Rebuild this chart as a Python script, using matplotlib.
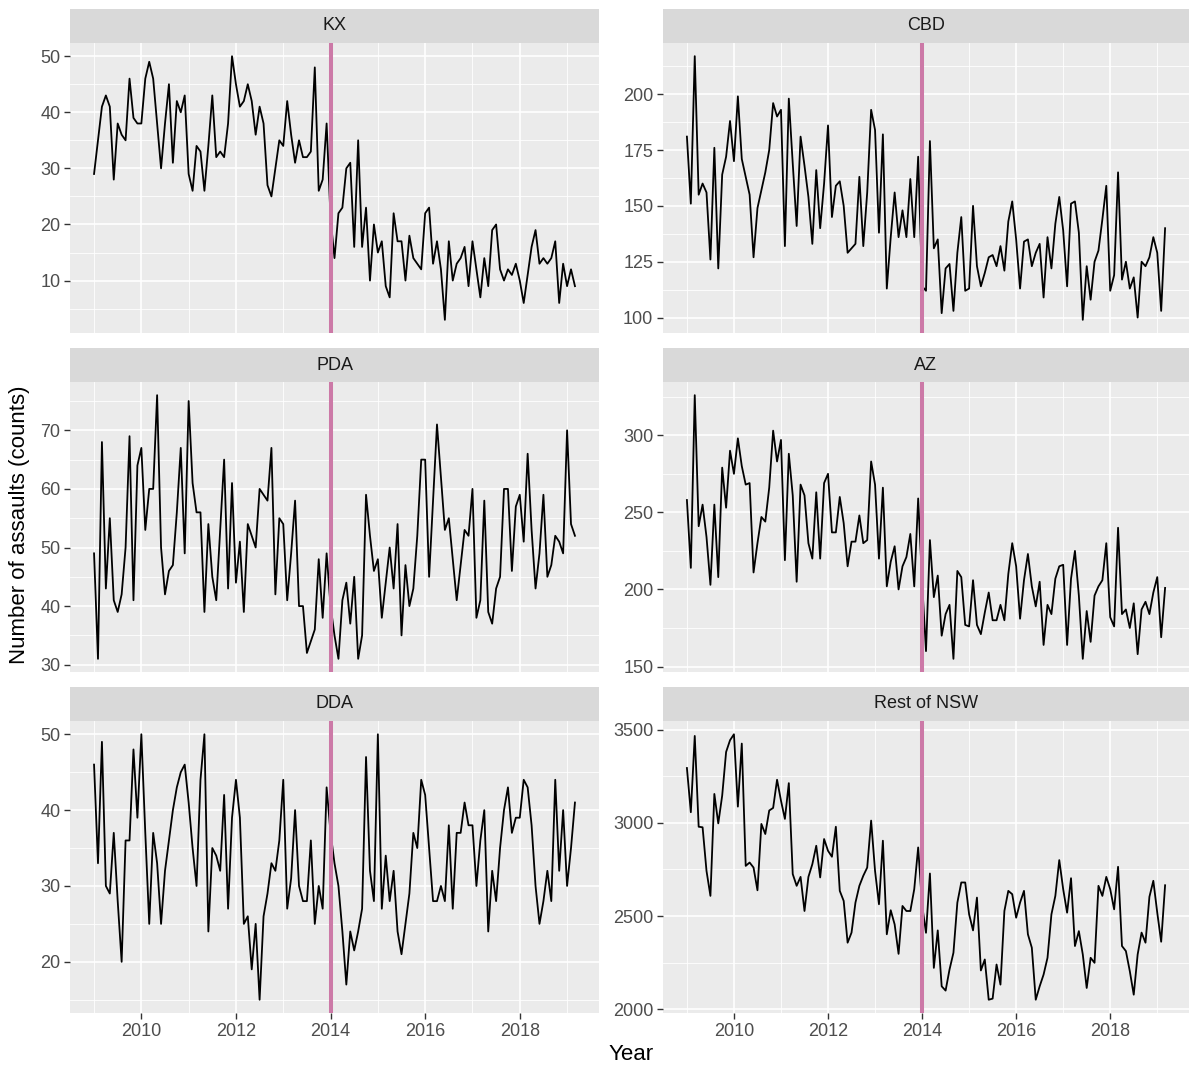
import numpy as np
import matplotlib.pyplot as plt
from matplotlib.ticker import MultipleLocator

plt.rcParams['font.family'] = ['Liberation Sans', 'DejaVu Sans']

# monthly counts, Jan 2009 - Mar 2019
kx = [29, 35, 41, 43, 41, 28, 38, 36, 35, 46, 39, 38,
      38, 46, 49, 46, 38, 30, 38, 45, 31, 42, 40, 43,
      29, 26, 34, 33, 26, 34, 43, 32, 33, 32, 38, 50,
      45, 41, 42, 45, 42, 36, 41, 38, 27, 25, 30, 35,
      34, 42, 36, 31, 35, 32, 32, 33, 48, 26, 28, 38,
      21, 14, 22, 23, 30, 31, 16, 35, 16, 23, 10, 20,
      15, 17, 9, 7, 22, 17, 17, 10, 18, 14, 13, 12,
      22, 23, 13, 17, 12, 3, 17, 10, 13, 14, 16, 9,
      17, 12, 7, 14, 9, 19, 20, 12, 10, 12, 11, 13,
      10, 6, 11, 16, 19, 13, 14, 13, 14, 17, 6, 13,
      9, 12, 9]

cbd = [181, 151, 217, 155, 160, 156, 126, 176, 122, 164, 172, 188,
       170, 199, 171, 163, 155, 127, 149, 157, 165, 175, 196, 190,
       193, 132, 198, 169, 141, 181, 168, 154, 133, 166, 140, 160,
       186, 145, 159, 161, 150, 129, 131, 133, 163, 132, 156, 193,
       184, 138, 182, 113, 136, 156, 136, 148, 136, 162, 136, 172,
       114, 112, 179, 131, 135, 102, 122, 124, 103, 129, 145, 112,
       113, 150, 123, 114, 120, 127, 128, 123, 132, 121, 143, 152,
       135, 113, 134, 135, 123, 129, 133, 109, 136, 122, 142, 154,
       139, 114, 151, 152, 138, 99, 123, 108, 125, 130, 144, 159,
       112, 119, 165, 117, 125, 113, 118, 100, 125, 123, 127, 136,
       129, 103, 140]

pda = [49, 31, 68, 43, 55, 41, 39, 42, 50, 69, 41, 64,
       67, 53, 60, 60, 76, 50, 42, 46, 47, 56, 67, 49,
       75, 61, 56, 56, 39, 54, 45, 41, 53, 65, 43, 61,
       44, 51, 39, 54, 52, 50, 60, 59, 58, 67, 42, 55,
       54, 41, 49, 58, 40, 40, 32, 34, 36, 48, 38, 49,
       40, 35, 31, 41, 44, 37, 45, 31, 35, 59, 52, 46,
       48, 38, 44, 50, 43, 54, 35, 47, 40, 43, 52, 65,
       65, 45, 58, 71, 62, 53, 55, 48, 41, 47, 53, 52,
       60, 38, 41, 58, 39, 37, 43, 45, 60, 60, 46, 57,
       59, 51, 66, 53, 43, 49, 59, 45, 47, 52, 51, 49,
       70, 54, 52]

az = [258, 214, 326, 241, 255, 234, 203, 255, 208, 279, 253, 290,
      275, 298, 280, 268, 269, 211, 230, 247, 244, 266, 303, 283,
      297, 219, 288, 261, 205, 268, 261, 230, 220, 263, 220, 269,
      275, 237, 237, 260, 243, 215, 231, 231, 248, 230, 232, 283,
      268, 220, 266, 202, 218, 228, 200, 215, 221, 236, 202, 259,
      205, 160, 232, 195, 209, 170, 184, 190, 155, 212, 208, 177,
      176, 206, 177, 171, 185, 198, 180, 180, 190, 180, 210, 230,
      215, 181, 206, 223, 202, 189, 205, 164, 190, 184, 207, 215,
      216, 164, 207, 225, 196, 155, 186, 166, 196, 202, 206, 230,
      182, 176, 240, 184, 187, 175, 191, 158, 187, 192, 184, 198,
      208, 169, 201]

dda = [46, 33, 49, 30, 29, 37, 28, 20, 36, 36, 48, 39,
       50, 37, 25, 37, 33, 25, 32, 36, 40, 43, 45, 46,
       41, 35, 30, 44, 50, 24, 35, 34, 32, 42, 27, 39,
       44, 39, 25, 26, 19, 25, 15, 26, 29, 33, 32, 36,
       44, 27, 31, 40, 30, 28, 28, 36, 25, 30, 27, 43,
       37, 33, 30, 24, 17, 24, 21.5, 24, 27, 47, 32, 28,
       50, 27, 34, 28, 32, 24, 21, 25, 29, 37, 35, 44,
       42, 35, 28, 28, 30, 28, 38, 27, 37, 37, 41, 38,
       38, 30, 36, 40, 24, 32, 28, 35, 40, 43, 37, 39,
       39, 44, 43, 38, 30, 25, 28, 32, 28, 44, 32, 40,
       30, 35, 41]

rest_nsw = [3294, 3057, 3466, 2979, 2976, 2742, 2608, 3155, 2997, 3146, 3380, 3443,
            3475, 3087, 3425, 2769, 2787, 2760, 2638, 2994, 2940, 3066, 3080, 3231,
            3119, 3021, 3213, 2725, 2662, 2710, 2527, 2710, 2778, 2877, 2707, 2913,
            2850, 2818, 2979, 2635, 2581, 2357, 2411, 2572, 2662, 2716, 2760, 3012,
            2742, 2563, 2904, 2402, 2531, 2455, 2297, 2554, 2527, 2527, 2644, 2868,
            2560, 2410, 2728, 2222, 2423, 2123, 2100, 2213, 2303, 2572, 2680, 2680,
            2509, 2423, 2599, 2208, 2267, 2051, 2057, 2240, 2132, 2527, 2635, 2617,
            2491, 2572, 2635, 2402, 2330, 2051, 2123, 2186, 2276, 2509, 2608, 2800,
            2644, 2518, 2703, 2339, 2419, 2294, 2114, 2276, 2249, 2662, 2608, 2710,
            2644, 2536, 2764, 2339, 2312, 2204, 2078, 2294, 2411, 2357, 2603, 2689,
            2518, 2362, 2665]

titles = ['KX', 'CBD', 'PDA', 'AZ', 'DDA', 'Rest of NSW']
series = [kx, cbd, pda, az, dda, rest_nsw]
y_steps = [10, 25, 10, 50, 10, 500]
intervention = 2014

years = 2009 + np.arange(len(kx)) / 12

W, H = 1190, 1069
fig = plt.figure(figsize=(W / 100, H / 100), dpi=100)

cols = [(70, 599), (663, 1189)]
rows = [(9, 43, 333), (348, 382, 672), (687, 721, 1013)]

xmin, xmax = years.min(), years.max()
xpad = (xmax - xmin) * 0.05

for k, (name, vals, step) in enumerate(zip(titles, series, y_steps)):
    r, c = divmod(k, 2)
    x0, x1 = cols[c]
    ys, yt, yb = rows[r]
    ax = fig.add_axes([x0 / W, 1 - yb / H, (x1 - x0) / W, (yb - yt) / H])
    st = fig.add_axes([x0 / W, 1 - yt / H, (x1 - x0) / W, (yt - ys) / H])

    st.set_facecolor('#D9D9D9')
    st.set_xticks([])
    st.set_yticks([])
    for s in st.spines.values():
        s.set_visible(False)
    st.text(0.5, 0.5, name, ha='center', va='center', fontsize=13, color='#1A1A1A',
            transform=st.transAxes)

    ax.set_facecolor('#EBEBEB')
    ax.plot(years, vals, color='black', lw=1.3, zorder=3)
    ax.axvline(intervention, color='#CC79A7', lw=2.9, zorder=4)

    v = np.array(vals, dtype=float)
    ypad = (v.max() - v.min()) * 0.05
    ax.set_ylim(v.min() - ypad, v.max() + ypad)
    ax.set_xlim(xmin - xpad, xmax + xpad)

    ax.xaxis.set_major_locator(MultipleLocator(2))
    ax.xaxis.set_minor_locator(MultipleLocator(1))
    ax.yaxis.set_major_locator(MultipleLocator(step))
    ax.yaxis.set_minor_locator(MultipleLocator(step / 2))
    ax.grid(which='major', color='white', lw=1.2)
    ax.grid(which='minor', color='white', lw=0.6)
    ax.set_axisbelow(True)
    for s in ax.spines.values():
        s.set_visible(False)

    ax.tick_params(which='minor', length=0)
    ax.tick_params(axis='y', which='major', length=4, width=1, color='#333333',
                   labelsize=13, labelcolor='#4D4D4D', pad=3)
    if r == 2:
        ax.tick_params(axis='x', which='major', length=4, width=1, color='#333333',
                       labelsize=13, labelcolor='#4D4D4D', pad=3)
    else:
        ax.tick_params(axis='x', which='major', length=0, labelbottom=False)

fig.text(631 / W, 1 - 1055 / H, 'Year', ha='center', va='center', fontsize=16)
fig.text(20 / W, 1 - 525 / H, 'Number of assaults (counts)', ha='center', va='center',
         rotation=90, fontsize=16)

fig.savefig('out.png', dpi=100)
